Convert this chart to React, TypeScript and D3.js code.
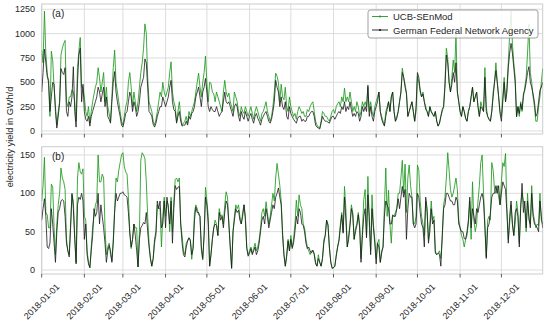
import * as d3 from "d3";

// daily values for 2018 (GWh/d)
const topUcb = [
  830, 700, 1230, 800, 600, 480, 150, 820, 720, 450, 250, 60, 200, 300, 780, 850, 900, 930, 300, 250, 350, 350, 420, 400, 300, 100, 650, 820, 960, 450, 450,
  350, 200, 150, 250, 80, 200, 300, 380, 450, 500, 650, 550, 400, 500, 600, 300, 450, 250, 180, 100, 350, 650, 830, 500, 400, 300, 200, 100,
  60, 150, 250, 300, 500, 600, 450, 250, 400, 300, 200, 300, 450, 600, 700, 850, 1100, 1000, 550, 300, 250, 200, 100, 60, 120, 200, 300, 400, 350, 500, 400,
  350, 400, 450, 600, 710, 400, 300, 250, 100, 200, 300, 150, 60, 80, 100, 150, 80, 200, 150, 200, 250, 300, 400, 500, 594, 450, 350, 500, 600, 770,
  500, 300, 500, 490, 400, 380, 300, 400, 350, 300, 250, 200, 400, 520, 400, 350, 390, 300, 250, 200, 400, 350, 300, 200, 150, 250, 200, 180, 250, 200, 150,
  200, 250, 180, 120, 200, 250, 200, 150, 100, 180, 200, 250, 300, 200, 150, 100, 150, 250, 400, 594, 560, 500, 300, 480, 350, 320, 450, 250, 200, 350,
  250, 200, 150, 180, 120, 200, 250, 220, 180, 200, 150, 150, 220, 200, 250, 280, 300, 200, 100, 60, 40, 30, 100, 200, 180, 150, 150, 120, 100, 150, 200,
  220, 180, 250, 280, 300, 250, 350, 300, 440, 300, 350, 300, 400, 300, 200, 250, 200, 300, 250, 150, 200, 300, 250, 300, 250, 450, 200, 300, 200, 150, 250,
  300, 350, 400, 200, 150, 100, 60, 200, 250, 300, 200, 350, 400, 200, 100, 150, 200, 300, 400, 645, 550, 480, 400, 150, 200, 250, 300, 200, 100, 200,
  560, 500, 400, 350, 400, 300, 250, 200, 150, 250, 200, 180, 150, 200, 100, 50, 80, 150, 200, 250, 500, 850, 750, 500, 400, 550, 730, 600, 1000, 400, 300,
  200, 150, 250, 200, 130, 100, 200, 250, 350, 450, 300, 350, 400, 250, 150, 300, 250, 200, 650, 250, 150, 120, 100, 200, 400, 500, 700, 500, 350, 200,
  150, 350, 550, 300, 450, 700, 1000, 1230, 900, 700, 550, 150, 250, 150, 300, 200, 350, 450, 550, 800, 1100, 600, 500, 350, 250, 100, 100, 250, 350, 500, 640,
];

const topBna = [
  400, 600, 840, 700, 560, 520, 200, 350, 500, 480, 200, 30, 150, 280, 640, 600, 580, 650, 200, 150, 300, 250, 350, 660, 200, 40, 500, 780, 850, 300, 480,
  200, 120, 100, 150, 50, 150, 200, 250, 300, 350, 450, 400, 300, 380, 450, 250, 350, 150, 120, 80, 300, 500, 610, 400, 300, 220, 150, 60,
  40, 100, 180, 200, 300, 400, 350, 200, 300, 250, 150, 200, 300, 450, 500, 550, 740, 700, 450, 200, 180, 150, 70, 40, 80, 150, 200, 250, 250, 350, 300,
  250, 300, 350, 450, 520, 300, 220, 200, 80, 150, 200, 100, 50, 60, 60, 100, 60, 150, 120, 180, 200, 250, 350, 400, 450, 350, 250, 400, 450, 540,
  400, 250, 200, 250, 220, 200, 200, 250, 200, 150, 180, 200, 300, 400, 300, 280, 300, 250, 200, 150, 250, 280, 250, 150, 100, 200, 150, 120, 200, 150, 100,
  150, 180, 120, 80, 150, 180, 130, 100, 60, 120, 150, 180, 200, 150, 100, 80, 120, 200, 300, 520, 450, 400, 250, 350, 250, 220, 300, 150, 120, 250,
  180, 150, 120, 100, 80, 130, 150, 150, 100, 120, 100, 100, 150, 150, 180, 200, 200, 150, 60, 40, 30, 20, 80, 150, 120, 100, 100, 90, 80, 120, 150,
  150, 120, 150, 180, 200, 180, 250, 220, 300, 200, 250, 220, 300, 220, 150, 180, 150, 200, 180, 100, 150, 250, 200, 250, 200, 470, 150, 250, 150, 100, 200,
  250, 300, 400, 200, 120, 80, 50, 150, 220, 300, 200, 350, 400, 200, 100, 130, 200, 300, 400, 600, 550, 450, 380, 150, 200, 250, 300, 200, 100, 250,
  600, 550, 420, 350, 380, 300, 220, 200, 150, 250, 200, 170, 150, 200, 100, 50, 80, 150, 220, 250, 450, 780, 700, 500, 400, 480, 600, 500, 700, 400, 300,
  200, 150, 250, 200, 130, 100, 200, 250, 350, 450, 300, 350, 400, 250, 150, 250, 230, 200, 550, 200, 150, 120, 100, 200, 350, 500, 620, 500, 350, 180,
  100, 300, 500, 300, 400, 650, 800, 900, 800, 650, 500, 145, 250, 180, 280, 220, 380, 420, 500, 600, 660, 500, 450, 380, 300, 150, 180, 300, 420, 450, 500,
];

const bottomUcb = [
  90, 110, 147, 75, 72, 55, 55, 112, 108, 55, 20, 60, 85, 100, 133, 120, 115, 105, 40, 25, 20, 60, 98, 90, 45, 10, 120, 140, 128, 125, 132,
  70, 65, 25, 10, 3, 30, 55, 70, 85, 90, 150, 115, 115, 125, 120, 55, 20, 30, 35, 20, 12, 40, 80, 120, 115, 130, 140, 150,
  153, 135, 128, 125, 95, 50, 28, 40, 60, 55, 55, 4, 50, 143, 153, 150, 145, 115, 70, 35, 15, 5, 15, 35, 45, 85, 80, 80, 30, 70, 95,
  70, 90, 85, 50, 95, 50, 90, 118, 120, 115, 120, 60, 45, 25, 20, 35, 38, 42, 40, 14, 30, 75, 85, 80, 72, 70, 26, 13, 45, 108,
  90, 70, 5, 20, 40, 55, 65, 60, 45, 80, 70, 72, 60, 85, 102, 95, 60, 30, 3, 50, 70, 85, 80, 85, 70, 60, 75, 85, 70, 30, 20,
  25, 30, 22, 28, 35, 25, 30, 40, 55, 75, 80, 70, 89, 75, 60, 70, 85, 100, 90, 120, 139, 125, 110, 90, 50, 20, 5, 20, 40, 25,
  45, 30, 40, 60, 91, 70, 98, 85, 80, 60, 55, 40, 30, 25, 20, 25, 25, 22, 10, 5, 20, 10, 5, 15, 40, 45, 65, 60, 30, 12, 3,
  3, 5, 20, 30, 40, 60, 75, 50, 109, 80, 30, 45, 60, 85, 75, 40, 55, 60, 75, 60, 15, 50, 92, 105, 45, 122, 60, 25, 98, 60, 40,
  15, 35, 40, 10, 25, 30, 83, 133, 70, 104, 60, 35, 70, 70, 75, 80, 100, 100, 120, 143, 100, 138, 75, 120, 137, 110, 95, 60, 60, 70,
  137, 130, 90, 70, 60, 45, 90, 75, 40, 60, 90, 65, 70, 25, 20, 22, 25, 15, 40, 85, 95, 120, 153, 130, 105, 95, 100, 110, 120, 105, 65,
  55, 45, 40, 30, 40, 45, 60, 90, 40, 115, 65, 50, 60, 90, 110, 140, 150, 100, 60, 17, 65, 70, 65, 140, 130, 105, 100, 110, 95, 85,
  115, 140, 135, 152, 80, 40, 60, 85, 60, 45, 60, 90, 75, 35, 85, 100, 90, 80, 50, 100, 65, 60, 110, 75, 65, 55, 60, 58, 100, 65, 60,
];

const bottomBna = [
  65, 80, 93, 70, 30, 28, 35, 80, 60, 35, 10, 50, 75, 80, 90, 92, 90, 70, 35, 25, 17, 55, 100, 80, 40, 8, 85, 95, 92, 100, 90,
  40, 60, 20, 8, 3, 25, 45, 80, 70, 75, 100, 60, 85, 70, 55, 35, 10, 25, 32, 25, 10, 35, 75, 100, 90, 95, 100, 100,
  102, 98, 97, 95, 75, 48, 30, 40, 60, 45, 25, 4, 40, 55, 58, 62, 60, 75, 50, 30, 15, 5, 15, 40, 50, 90, 80, 90, 55, 60, 90,
  55, 95, 80, 60, 90, 35, 80, 110, 105, 108, 109, 60, 35, 20, 17, 30, 38, 42, 38, 20, 28, 65, 82, 75, 75, 70, 30, 15, 45, 95,
  85, 60, 5, 20, 40, 55, 60, 58, 45, 75, 65, 70, 55, 75, 90, 85, 60, 30, 2, 50, 65, 80, 75, 78, 65, 60, 70, 85, 65, 28, 18,
  22, 28, 20, 25, 30, 20, 25, 35, 50, 65, 70, 60, 80, 70, 55, 65, 75, 85, 80, 95, 100, 107, 95, 85, 45, 20, 5, 18, 38, 25,
  40, 28, 35, 50, 70, 60, 80, 75, 60, 58, 50, 35, 28, 30, 25, 22, 26, 20, 8, 5, 15, 10, 5, 15, 35, 45, 65, 58, 30, 10, 2,
  3, 5, 18, 30, 38, 55, 72, 48, 95, 65, 30, 40, 58, 80, 72, 40, 50, 58, 72, 55, 10, 45, 70, 80, 42, 98, 70, 20, 80, 55, 35,
  8, 35, 30, 10, 22, 30, 70, 90, 85, 80, 60, 60, 72, 70, 70, 80, 93, 80, 95, 109, 95, 105, 40, 80, 100, 95, 95, 60, 55, 60,
  100, 95, 75, 60, 55, 30, 95, 80, 35, 50, 80, 60, 65, 22, 20, 22, 20, 5, 45, 80, 85, 100, 100, 95, 90, 90, 85, 85, 95, 90, 60,
  55, 50, 50, 41, 40, 50, 65, 95, 55, 80, 70, 60, 80, 75, 85, 95, 100, 90, 55, 15, 55, 60, 75, 95, 100, 100, 110, 100, 110, 85,
  100, 115, 110, 105, 75, 35, 70, 90, 60, 45, 75, 80, 70, 30, 80, 113, 75, 90, 55, 90, 70, 55, 100, 70, 60, 58, 55, 50, 90, 70, 55,
];

const topTicks = [0, 250, 500, 750, 1000, 1250];
const bottomTicks = [0, 50, 100, 150];
const seriesNames = ["UCB-SEnMod", "German Federal Network Agency"];

const W = 550;
const H = 327;
const FONT = "'Liberation Sans', Arial, sans-serif";
const GREEN = "#1f9a1f";
const BLACK = "#1a1a1a";
const GRID = "#d9d9d9";
const TEXT = "#262626";

const start = new Date(Date.UTC(2018, 0, 1));
const end = new Date(Date.UTC(2018, 11, 31));
const dates = topUcb.map((_, i) => d3.utcDay.offset(start, i));
const months = d3.utcMonth.range(start, d3.utcDay.offset(end, 1));
const fmt = d3.utcFormat("%Y-%m-%d");

const x = d3.scaleUtc().domain([start, end]).range([41.7, 542.7]);

const panels = [
  { key: "a", top: 4, bottom: 134, domain: [-31, 1304], ticks: topTicks, ucb: topUcb, bna: topBna },
  { key: "b", top: 146.7, bottom: 274, domain: [-5.2, 160.8], ticks: bottomTicks, ucb: bottomUcb, bna: bottomBna },
];

export default function App() {
  const [x0, x1] = x.range();
  return (
    <svg width={W} height={H} style={{ position: "absolute", left: 0, top: 0, background: "#fff" }} fontFamily={FONT}>
      {panels.map(p => {
        const y = d3.scaleLinear().domain(p.domain).range([p.bottom, p.top]);
        const line = d3.line<number>().x((_, i) => x(dates[i])).y(v => y(v));
        return (
          <g key={p.key}>
            <clipPath id={`clip-${p.key}`}>
              <rect x={x0} y={p.top} width={x1 - x0} height={p.bottom - p.top} />
            </clipPath>
            {months.map(m => (
              <line key={+m} x1={x(m)} x2={x(m)} y1={p.top} y2={p.bottom} stroke={GRID} strokeWidth={0.9} />
            ))}
            {p.ticks.map(t => (
              <line key={t} x1={x0} x2={x1} y1={y(t)} y2={y(t)} stroke={GRID} strokeWidth={0.9} />
            ))}
            <rect x={x0} y={p.top} width={x1 - x0} height={p.bottom - p.top} fill="none" stroke="#cccccc" strokeWidth={1} />
            <g clipPath={`url(#clip-${p.key})`}>
              <path d={line(p.ucb) ?? ""} fill="none" stroke={GREEN} strokeWidth={0.85} strokeLinejoin="round" />
              <path d={line(p.bna) ?? ""} fill="none" stroke={BLACK} strokeWidth={0.8} strokeLinejoin="round" />
            </g>
            {months.map(m => (
              <line key={+m} x1={x(m)} x2={x(m)} y1={p.bottom} y2={p.bottom + 3.5} stroke="#333" strokeWidth={0.8} />
            ))}
            {p.ticks.map(t => (
              <text key={t} x={35} y={y(t)} textAnchor="end" dominantBaseline="central" fontSize={9} fill={TEXT}>
                {t}
              </text>
            ))}
            <text x={52} y={p.top + 13} fontSize={10} fill={TEXT}>
              ({p.key})
            </text>
          </g>
        );
      })}

      {months.map(m => (
        <text
          key={+m}
          transform={`translate(${x(m)},301.5) rotate(-45)`}
          textAnchor="middle"
          dominantBaseline="central"
          fontSize={9}
          fill={TEXT}
        >
          {fmt(m)}
        </text>
      ))}

      <text transform="translate(10,137) rotate(-90)" textAnchor="middle" dominantBaseline="central" fontSize={9.2} fill={TEXT}>
        electricity yield in GWh/d
      </text>

      <g>
        <rect x={368} y={10} width={170} height={28} rx={2.5} fill="#fff" fillOpacity={0.85} stroke="#888" strokeWidth={0.8} />
        {seriesNames.map((name, i) => {
          const cy = 16.5 + i * 13.5;
          const c = i === 0 ? GREEN : BLACK;
          return (
            <g key={name}>
              <line x1={372} x2={388} y1={cy} y2={cy} stroke={c} strokeWidth={0.9} />
              <circle cx={380} cy={cy} r={1.1} fill={c} />
              <text x={393} y={cy} dominantBaseline="central" fontSize={9.5} fill={TEXT}>
                {name}
              </text>
            </g>
          );
        })}
      </g>
    </svg>
  );
}
